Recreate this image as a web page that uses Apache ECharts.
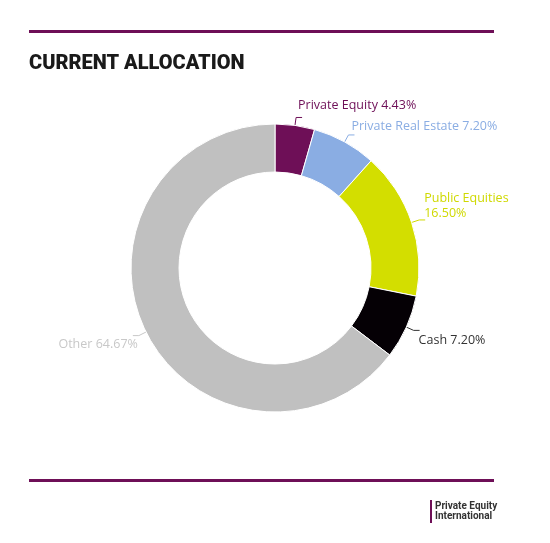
<!DOCTYPE html>
<html><head><meta charset="utf-8">
<script src="https://cdn.jsdelivr.net/npm/echarts@6/dist/echarts.min.js"></script>
<style>html,body{margin:0;padding:0;background:#fff}#c{width:550px;height:543px}</style>
</head><body><div id="c"></div>
<script>
const categories = ['Private Equity','Private Real Estate','Public Equities','Cash','Other'];
const values = [4.43, 7.20, 16.50, 7.20, 64.67];
const colors = ['#6e0f57','#8aade3','#d3de00','#050005','#c0c0c0'];
const labelColors = ['#6e0f57','#8aade3','#cfd900','#333333','#c8c8c8'];
const titleText = 'CURRENT ALLOCATION';

// label nudges (layout only)
const labelShift = [[-9,-12],[-8,-9],[-6,-14],[-6,10],[10,9]];

const chart = echarts.init(document.getElementById('c'));
chart.setOption({
  animation:false,
  graphic:[
    {type:'rect',shape:{x:29,y:30,width:465,height:3},style:{fill:'#6e0f57'}},
    {type:'rect',shape:{x:29,y:479,width:465,height:3},style:{fill:'#6e0f57'}},
    {type:'text',left:29,top:54,style:{text:titleText,fontFamily:'Roboto',fontWeight:900,fontSize:20,fill:'#1a1a1a'}},
    {type:'rect',shape:{x:430,y:500,width:2,height:23},style:{fill:'#6e0f57'}},
    {type:'text',left:435,top:501,style:{text:'Private Equity\nInternational',fontFamily:'Roboto',fontWeight:'bold',fontSize:10,lineHeight:10,fill:'#333'}}
  ],
  series:[{
    type:'pie',
    center:[275,268],
    radius:[96,144],
    startAngle:90,
    clockwise:true,
    itemStyle:{borderColor:'#fff',borderWidth:1},
    label:{
      fontFamily:'Open Sans',fontSize:12.5,lineHeight:15,
      formatter:p => (p.name==='Public Equities' ? p.name+'\n' : p.name+' ') + p.value.toFixed(2)+'%'
    },
    labelLine:{length:8,length2:6,lineStyle:{width:1}},
    labelLayout: p => ({dx:labelShift[p.dataIndex][0], dy:labelShift[p.dataIndex][1]}),
    data: categories.map((n,i)=>({name:n,value:values[i],itemStyle:{color:colors[i]},label:{color:labelColors[i]},labelLine:{lineStyle:{color:labelColors[i]}}}))
  }]
});
</script></body></html>
